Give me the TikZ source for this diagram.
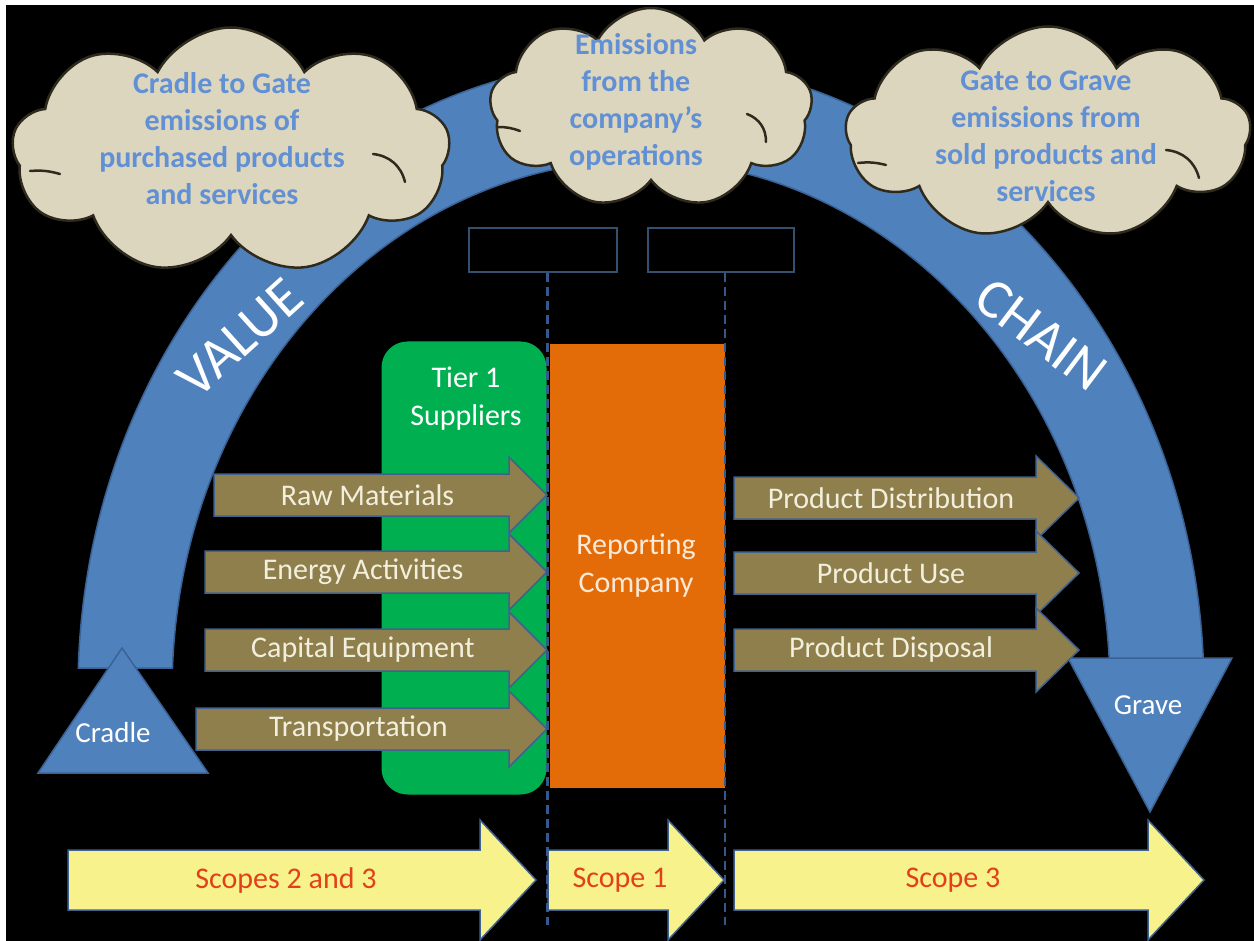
\documentclass[tikz,border=0pt]{standalone}
\usepackage{fontspec}
\setmainfont{Carlito}
\usetikzlibrary{shapes.symbols}
\definecolor{bandblue}{HTML}{4F81BD}
\definecolor{bandedge}{HTML}{3A6294}
\definecolor{cloudfill}{HTML}{DDD6BE}
\definecolor{cloudedge}{HTML}{2E2B1E}
\definecolor{cloudblue}{HTML}{6190D4}
\definecolor{tiergreen}{HTML}{00B050}
\definecolor{reporange}{HTML}{E36C09}
\definecolor{olivefill}{HTML}{8E7F4D}
\definecolor{arrowedge}{HTML}{41618F}
\definecolor{arrowtxt}{HTML}{F3EFDD}
\definecolor{scopeyellow}{HTML}{F7F28B}
\definecolor{scopered}{HTML}{E2401C}
\definecolor{boxedge}{HTML}{34506F}
\definecolor{dashblue}{HTML}{33598F}
\definecolor{repcream}{HTML}{FCE9D6}
\newcommand\blockarrow[9]{%
  \path[#1] (#3,#5-#6) -- (#4-#8,#5-#6) -- (#4-#8,#5-#7) -- (#4,#5) -- (#4-#8,#5+#7) -- (#4-#8,#5+#6) -- (#3,#5+#6) -- cycle;
  \node[#1 text] (#2) at ({(#3+#4-#8)/2},#5) {#9};}
\tikzset{
  cloudshape/.style={cloud, cloud puffs=9, cloud puff arc=125, cloud ignores aspect, fill=cloudfill, draw=cloudedge, line width=2.5, inner sep=0},
  cloudstroke/.style={draw=cloudedge, line width=2.5, line cap=round},
  cloudtext/.style={text=cloudblue, font=\fontsize{30}{37}\selectfont\bfseries, align=center, inner sep=0},
  bigword/.style={text=white, font=\fontsize{56}{56}\selectfont, inner sep=0},
  tipword/.style={text=white, font=\fontsize{29}{35}\selectfont, inner sep=0},
  smallbox/.style={draw=boxedge, line width=2, fill=black, minimum height=44, inner sep=0},
  dashline/.style={draw=dashblue, line width=2.5, dash pattern=on 9pt off 5pt},
  olivearrow/.style={fill=olivefill, draw=arrowedge, line width=1.5},
  olivearrow text/.style={text=arrowtxt, font=\fontsize{30}{36}\selectfont, inner sep=0, xshift=6},
  yellowarrow/.style={fill=scopeyellow, draw=arrowedge, line width=1.5},
  yellowarrow text/.style={text=scopered, font=\fontsize{30}{36}\selectfont, inner sep=0, xshift=12},
  boxlabel/.style={font=\fontsize{30}{38}\selectfont, align=center, inner sep=0}
}
\begin{document}
\begin{tikzpicture}[x=1pt,y=-1pt]
\useasboundingbox (0,0) rectangle (1254,941);
\fill[white] (0,0) rectangle (1254,941);
\fill[black] (6,5) rectangle (1254,941);
% value chain band
\path[fill=bandblue, draw=bandedge, line width=1.5] (78.3,668) arc[start angle=182, end angle=358, x radius=563, y radius=630] -- (1109.6,668) arc[start angle=357.6, end angle=182.4, x radius=469, y radius=530] -- cycle;
\path[fill=bandblue, draw=bandedge, line width=1.5] (122,648) -- (208,773) -- (38,773) -- cycle;
\path[fill=bandblue, draw=bandedge, line width=1.5] (1068,658) -- (1232,658) -- (1150,812) -- cycle;
\node[bigword, rotate=42] (value) at (240,338) {VALUE};
\node[bigword, rotate=-37] (chain) at (1041,335) {CHAIN};
\node[tipword] (cradle) at (113,733) {Cradle};
\node[tipword] (grave) at (1148,705) {Grave};
% clouds
\node[cloudshape, minimum width=438, minimum height=247] (c1) at (231,151) {};
\node[cloudshape, minimum width=323, minimum height=200] (c2) at (651,108) {};
\node[cloudshape, minimum width=405, minimum height=213] (c3) at (1048,133) {};
\draw[cloudstroke] (373,154) to[bend left=35] (405,182);
\draw[cloudstroke] (30,171) to[bend left=10] (60,174);
\draw[cloudstroke] (747,114) to[bend left=35] (766,142);
\draw[cloudstroke] (498,127) to[bend left=10] (520,131);
\draw[cloudstroke] (1166,150) to[bend left=35] (1199,178);
\draw[cloudstroke] (858,163) to[bend left=10] (886,165);
\node[cloudtext] (c1t) at (222,139) {Cradle to Gate\\emissions of\\purchased products\\and services};
\node[cloudtext] (c2t) at (636,102) {Emissions\\from the\\company’s\\operations};
\node[cloudtext] (c3t) at (1046,136) {Gate to Grave\\emissions from\\sold products and\\services};
% small boxes
\node[smallbox, minimum width=148] (b1) at (543,250) {};
\node[smallbox, minimum width=146] (b2) at (721,250) {};
% tier 1 and reporting company
\node[fill=tiergreen, rounded corners=26, minimum width=165, minimum height=453, inner sep=0] (tier) at (464,568) {};
\node[boxlabel, text=white] (tiert) at (466,399) {Tier 1\\Suppliers};
\blockarrow{olivearrow}{raw}{214}{547}{495}{21}{38}{38}{Raw Materials}
\blockarrow{olivearrow}{energy}{205}{547}{572}{21}{38}{38}{Energy Activities}
\blockarrow{olivearrow}{capital}{205}{547}{650}{21}{38}{38}{Capital Equipment}
\blockarrow{olivearrow}{transport}{196}{547}{729}{21}{38}{38}{Transportation}
\node[fill=reporange, minimum width=175, minimum height=444, inner sep=0] (rep) at (637.5,566) {};
\node[boxlabel, text=repcream] (rept) at (636,566) {Reporting\\Company};
\blockarrow{olivearrow}{dist}{734}{1079}{498}{21}{42}{43}{Product Distribution}
\blockarrow{olivearrow}{use}{734}{1079}{573}{21}{42}{43}{Product Use}
\blockarrow{olivearrow}{disp}{734}{1079}{650}{21}{42}{43}{Product Disposal}
% dashed scope boundaries
\coordinate (d1) at (547.5,925);
\coordinate (d2) at (725,925);
\draw[dashline] (b1.south -| d1) -- (d1);
\draw[dashline] (b2.south -| d2) -- (d2);
% scope arrows
\blockarrow{yellowarrow}{s23}{68}{536}{880}{30}{60}{56}{Scopes 2 and 3}
\blockarrow{yellowarrow}{s1}{548}{724}{880}{30}{60}{56}{Scope 1}
\blockarrow{yellowarrow}{s3}{734}{1204}{880}{30}{60}{56}{Scope 3}
\end{tikzpicture}
\end{document}
